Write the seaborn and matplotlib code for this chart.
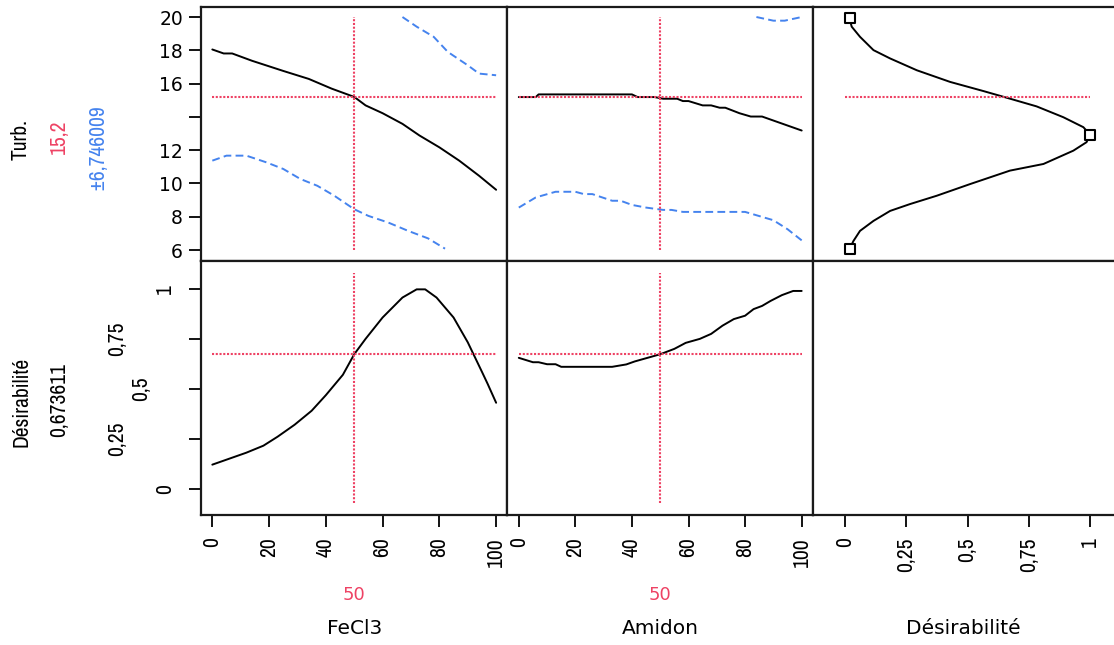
import matplotlib
matplotlib.use("Agg")
import matplotlib.pyplot as plt
import seaborn as sns
from matplotlib import font_manager
from matplotlib.font_manager import FontProperties

# Profiler values
fecl3_set = 50
amidon_set = 50
turb_pred = 15.2
turb_ci = 6.746009
desir_pred = 0.673611

# Turb. vs FeCl3
fecl3_x = [0, 4, 7, 14, 25, 34, 42, 50, 54, 60, 67, 73, 80, 87, 94, 100]
turb_fecl3 = [18.05, 17.81, 17.81, 17.37, 16.76, 16.28, 15.70, 15.2, 14.69, 14.22,
              13.58, 12.88, 12.17, 11.37, 10.46, 9.62]
lo_fecl3_x = [0, 5, 12, 19, 25, 31, 37, 43, 50, 55, 62, 69, 76, 82]
lo_fecl3 = [11.37, 11.67, 11.67, 11.27, 10.87, 10.27, 9.86, 9.26, 8.45, 8.05, 7.65,
            7.15, 6.70, 6.08]
hi_fecl3_x = [67, 72, 78, 83, 90, 94, 100]
hi_fecl3 = [20.0, 19.42, 18.81, 17.9, 17.1, 16.6, 16.5]

# Turb. vs Amidon
amidon_x = [0, 6, 7, 40, 42, 48, 51, 56, 58, 60, 65, 68, 71, 73, 78, 82, 86, 90, 95, 100]
turb_amidon = [15.19, 15.19, 15.35, 15.35, 15.19, 15.19, 15.09, 15.09, 14.95, 14.95,
               14.69, 14.69, 14.55, 14.55, 14.22, 14.02, 14.02, 13.78, 13.48, 13.18]
lo_amidon_x = [0, 6, 13, 20, 23, 26, 33, 36, 40, 45, 51, 54, 58, 80, 90, 95, 100]
lo_amidon = [8.55, 9.16, 9.50, 9.50, 9.36, 9.36, 8.96, 8.96, 8.71, 8.55, 8.41, 8.41,
             8.29, 8.29, 7.79, 7.25, 6.58]
hi_amidon_x = [84, 90, 94, 100]
hi_amidon = [20.0, 19.78, 19.78, 20.0]

# desirability function of Turb.
des_fn_d = [0.018, 0.027, 0.061, 0.116, 0.184, 0.293, 0.429, 0.565, 0.660, 0.782, 0.891,
            0.973, 1.0, 0.986, 0.932, 0.810, 0.673, 0.510, 0.374, 0.265, 0.184, 0.116,
            0.061, 0.034, 0.018]
des_fn_turb = [19.92, 19.42, 18.81, 18.01, 17.51, 16.80, 16.10, 15.55, 15.15, 14.63, 13.98,
               13.38, 12.94, 12.48, 11.97, 11.17, 10.77, 9.96, 9.26, 8.76, 8.35, 7.75,
               7.15, 6.54, 6.04]
handle_d = [0.02, 1.0, 0.02]
handle_turb = [19.92, 12.94, 6.05]

# Désirabilité vs factors
fecl3_d_x = [0, 4, 12, 18, 23, 29, 35, 40, 46, 50, 54, 60, 67, 72, 75, 79, 85, 90, 95, 97, 100]
des_fecl3 = [0.12, 0.14, 0.18, 0.215, 0.26, 0.32, 0.39, 0.468, 0.57, 0.673, 0.75, 0.857,
             0.957, 0.998, 0.998, 0.957, 0.857, 0.733, 0.585, 0.525, 0.43]
amidon_d_x = [0, 5, 7, 10, 13, 15, 33, 38, 41, 45, 50, 55, 59, 64, 68, 72, 76, 80, 83, 86,
              89, 93, 97, 100]
des_amidon = [0.655, 0.633, 0.633, 0.623, 0.623, 0.610, 0.610, 0.622, 0.637, 0.653, 0.673,
              0.700, 0.730, 0.750, 0.775, 0.816, 0.849, 0.866, 0.899, 0.915, 0.940, 0.969,
              0.990, 0.990]

factor_ticks = [0, 20, 40, 60, 80, 100]
turb_ticks = [6, 8, 10, 12, 14, 16, 18, 20]
turb_tick_labels = ["6", "8", "10", "12", "", "16", "18", "20"]
des_ticks = [0, 0.25, 0.5, 0.75, 1]
des_tick_labels = ["0", "0,25", "0,5", "0,75", "1"]

RED = "#EE4264"
BLUE = "#4583EE"

sns.set_style("white")
plt.rcParams["font.family"] = ["DejaVu Sans"]
plt.rcParams["text.color"] = "black"
plt.rcParams["xtick.color"] = "black"
plt.rcParams["ytick.color"] = "black"

# narrow face for the vertical texts
installed = {f.name: f.fname for f in font_manager.fontManager.ttflist
             if f.style == "normal" and f.weight == 400}
if "Archivo Narrow" in installed:
    narrow = FontProperties(fname=installed["Archivo Narrow"], size=15.5)
else:
    narrow = FontProperties(family="DejaVu Sans", stretch="condensed", size=13)

fig = plt.figure(figsize=(11.14, 6.45), dpi=100)
gs = fig.add_gridspec(2, 3, left=0.1804, right=1.0, top=0.9891, bottom=0.2016,
                      wspace=0, hspace=0, width_ratios=[306.5, 305.5, 301])
axes = [[fig.add_subplot(gs[r, c]) for c in range(3)] for r in range(2)]

for r in range(2):
    for c in range(3):
        ax = axes[r][c]
        for s in ax.spines.values():
            s.set_color("#1a1a1a")
            s.set_linewidth(1.6)
        ax.tick_params(direction="out", length=8.5, width=1.3, color="black")
        if c < 2:
            ax.set_xlim(-4, 104)
        else:
            ax.set_xlim(-0.131, 1.098)
            ax.spines["right"].set_visible(False)
        ax.set_ylim((5.34, 20.6) if r == 0 else (-0.132, 1.14))

line_kw = dict(estimator=None, sort=False, linewidth=1.4, color="black")
dash_kw = dict(estimator=None, sort=False, linewidth=1.4, color=BLUE, linestyle=(0, (4, 2.2)))
cross_kw = dict(colors=RED, linestyles=(0, (1, 0.8)), linewidth=1.5)

# top row
ax = axes[0][0]
sns.lineplot(x=lo_fecl3_x, y=lo_fecl3, ax=ax, **dash_kw)
sns.lineplot(x=hi_fecl3_x, y=hi_fecl3, ax=ax, **dash_kw)
sns.lineplot(x=fecl3_x, y=turb_fecl3, ax=ax, **line_kw)
ax.vlines(fecl3_set, 6, 20, **cross_kw)
ax.hlines(turb_pred, 0, 100, **cross_kw)

ax = axes[0][1]
sns.lineplot(x=lo_amidon_x, y=lo_amidon, ax=ax, **dash_kw)
sns.lineplot(x=hi_amidon_x, y=hi_amidon, ax=ax, **dash_kw)
sns.lineplot(x=amidon_x, y=turb_amidon, ax=ax, **line_kw)
ax.vlines(amidon_set, 6, 20, **cross_kw)
ax.hlines(turb_pred, 0, 100, **cross_kw)

ax = axes[0][2]
sns.lineplot(x=des_fn_d, y=des_fn_turb, ax=ax, **line_kw)
sns.scatterplot(x=handle_d, y=handle_turb, ax=ax, marker="s", s=50,
                facecolor="white", edgecolor="black", linewidth=1.5, zorder=5)
ax.hlines(turb_pred, 0, 1, **cross_kw)

# bottom row
ax = axes[1][0]
sns.lineplot(x=fecl3_d_x, y=des_fecl3, ax=ax, **line_kw)
ax.vlines(fecl3_set, -0.07, 1.08, **cross_kw)
ax.hlines(desir_pred, 0, 100, **cross_kw)

ax = axes[1][1]
sns.lineplot(x=amidon_d_x, y=des_amidon, ax=ax, **line_kw)
ax.vlines(amidon_set, -0.07, 1.08, **cross_kw)
ax.hlines(desir_pred, 0, 100, **cross_kw)

# ticks
for r in range(2):
    for c in range(3):
        ax = axes[r][c]
        ax.set_xlabel("")
        ax.set_ylabel("")
        if r == 1:
            if c < 2:
                ax.set_xticks(factor_ticks)
                ax.set_xticklabels([str(t) for t in factor_ticks])
            else:
                ax.set_xticks(des_ticks)
                ax.set_xticklabels(des_tick_labels)
            ax.tick_params(axis="x", bottom=True, pad=7.5)
            for lab in ax.get_xticklabels():
                lab.set_rotation(90)
                lab.set_fontproperties(narrow)
        else:
            ax.set_xticks([])
        if c == 0 and r == 0:
            ax.set_yticks(turb_ticks)
            ax.set_yticklabels(turb_tick_labels, fontsize=13.5)
            ax.tick_params(axis="y", left=True, pad=4.5)
        elif c == 0 and r == 1:
            ax.set_yticks(des_ticks)
            ax.set_yticklabels([])
            ax.tick_params(axis="y", left=True)
            for val, lab in zip(des_ticks, des_tick_labels):
                ndig = len(lab.replace(",", ""))
                off_px = 36 + 24 * (ndig - 1)
                ax.annotate(lab, xy=(0, val), xycoords=ax.get_yaxis_transform(),
                            xytext=(-off_px * 0.72, 0), textcoords="offset points",
                            rotation=90, ha="center", va="center", fontproperties=narrow)
        else:
            ax.set_yticks([])

# response labels on the left
fig.text(21 / 1114, 1 - 140 / 645, "Turb.", rotation=90, ha="center", va="center",
         fontproperties=narrow)
fig.text(59 / 1114, 1 - 137 / 645, f"{turb_pred}".replace(".", ","), rotation=90,
         ha="center", va="center", fontproperties=narrow, color=RED)
fig.text(97 / 1114, 1 - 147 / 645, f"±{turb_ci}".replace(".", ","), rotation=90,
         ha="center", va="center", fontproperties=narrow, color=BLUE)
fig.text(22 / 1114, 1 - 402 / 645, "Désirabilité", rotation=90, ha="center", va="center",
         fontproperties=narrow)
fig.text(59 / 1114, 1 - 400 / 645, f"{desir_pred}".replace(".", ","), rotation=90,
         ha="center", va="center", fontproperties=narrow)

# factor labels at the bottom
for ax, name, setv in [(axes[1][0], "FeCl3", fecl3_set), (axes[1][1], "Amidon", amidon_set),
                       (axes[1][2], "Désirabilité", None)]:
    if setv is not None:
        ax.annotate(str(setv), xy=(0.5, 0), xycoords="axes fraction", xytext=(0, -80 * 0.72),
                    textcoords="offset points", ha="center", va="center",
                    color=RED, fontsize=13)
    ax.annotate(name, xy=(0.5, 0), xycoords="axes fraction", xytext=(0, -114 * 0.72),
                textcoords="offset points", ha="center", va="center", fontsize=14.5)

fig.savefig("out.png", dpi=100)
